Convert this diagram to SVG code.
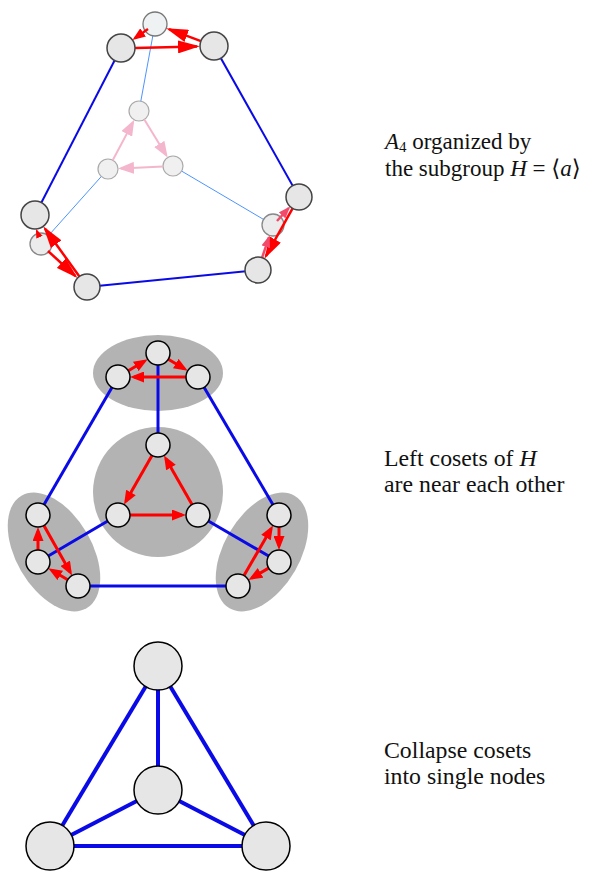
<svg xmlns="http://www.w3.org/2000/svg" width="589" height="871" viewBox="0 0 589 871">
<style>
.bg{fill:#ffffff}
.b{stroke:#0a0ae6;stroke-width:2;fill:none}
.b3{stroke:#0a0ae6;stroke-width:3;fill:none}
.b4{stroke:#0a0ae6;stroke-width:4;fill:none}
.lb{stroke:#4d94ff;stroke-width:1;fill:none}
.r{stroke:#ff0000;stroke-width:2.5;fill:none}
.r3{stroke:#ff0000;stroke-width:3;fill:none}
.rs{stroke:#ff0000;stroke-width:2;fill:none}
.rp{stroke:#f24a6a;stroke-width:2.5;fill:none}
.pk{stroke:#f4b6cc;stroke-width:2;fill:none}
.n{fill:#e6e6e6;stroke:#444;stroke-width:1.5}
.nb{fill:#eef2f2;stroke:#777;stroke-width:1.3}
.nf{fill:#f0f0f0;stroke:#aaa;stroke-width:1.2}
.nff{fill:#ececec;stroke:#888;stroke-width:1.3}
.nm{fill:#e6e6e6;stroke:#000;stroke-width:1.5}
.cos{fill:#b3b3b3}
.t{font-size:23.8px;fill:#111}
.t1{font-size:23px;fill:#111}
</style>
<defs>
<marker id="big" viewBox="0 0 22 13" markerWidth="22" markerHeight="13" refX="19" refY="6.5" orient="auto" markerUnits="userSpaceOnUse"><path d="M0,0 L22,6.5 L0,13 z" fill="#ff0000"/></marker>
<marker id="med" viewBox="0 0 13 10" markerWidth="13" markerHeight="10" refX="10" refY="5" orient="auto" markerUnits="userSpaceOnUse"><path d="M0,0 L13,5 L0,10 z" fill="#ff0000"/></marker>
<marker id="sm" viewBox="0 0 9 7" markerWidth="9" markerHeight="7" refX="7" refY="3.5" orient="auto" markerUnits="userSpaceOnUse"><path d="M0,0 L9,3.5 L0,7 z" fill="#ff0000"/></marker>
<marker id="pkh" viewBox="0 0 16 12" markerWidth="16" markerHeight="12" refX="13" refY="6" orient="auto" markerUnits="userSpaceOnUse"><path d="M0,0 L16,6 L0,12 z" fill="#f4b6cc"/></marker>
<marker id="rph" viewBox="0 0 12 9" markerWidth="12" markerHeight="9" refX="10" refY="4.5" orient="auto" markerUnits="userSpaceOnUse"><path d="M0,0 L12,4.5 L0,9 z" fill="#f24a6a"/></marker>
<marker id="mh" viewBox="0 0 14 11" markerWidth="14" markerHeight="11" refX="10" refY="5.5" orient="auto" markerUnits="userSpaceOnUse"><path d="M0,0 L14,5.5 L0,11 z" fill="#ff0000"/></marker>
</defs>
<rect class="bg" x="0" y="0" width="589" height="871"/>

<!-- ===== Top diagram ===== -->
<g id="top-connectors-back">
<line class="lb" x1="155" y1="24" x2="139" y2="111"/>
<line class="lb" x1="173" y1="166" x2="273" y2="225"/>
<line class="lb" x1="108" y1="169" x2="41" y2="244"/>
</g>
<g id="a-back"><circle class="nb" cx="155" cy="24" r="12"/></g>
<g id="a-in1"><circle class="nf" cx="139" cy="111" r="10"/></g>
<g id="a-in2"><circle class="nf" cx="173" cy="166" r="10"/></g>
<g id="a-in3"><circle class="nf" cx="108" cy="169" r="10"/></g>
<g id="a-lf"><circle class="nff" cx="41" cy="244" r="11"/></g>
<g id="a-rf"><circle class="nff" cx="273" cy="225" r="11"/></g>
<g id="top-connectors">
<line class="pk" x1="144.3" y1="119.5" x2="166.1" y2="155" marker-end="url(#pkh)"/>
<line class="pk" x1="163" y1="166.5" x2="121" y2="168.4" marker-end="url(#pkh)"/>
<line class="pk" x1="112.7" y1="160.2" x2="132.9" y2="122.4" marker-end="url(#pkh)"/>
<line class="b" x1="121" y1="48" x2="35" y2="215"/>
<line class="b" x1="214" y1="46" x2="299" y2="197"/>
<line class="b" x1="87" y1="287" x2="258" y2="270"/>
<line class="r" x1="148" y1="29" x2="134.9" y2="38.2" marker-end="url(#med)"/>
<line class="r" x1="135" y1="48" x2="197" y2="46.4" marker-end="url(#big)"/>
<line class="r" x1="200.9" y1="41.1" x2="169" y2="29.2" marker-end="url(#big)"/>
<line class="rs" x1="39" y1="236" x2="36.8" y2="230.8" marker-end="url(#sm)"/>
<line class="r" x1="79.4" y1="276.5" x2="45" y2="228.8" marker-end="url(#big)"/>
<line class="r" x1="48" y1="251" x2="75.3" y2="276" marker-end="url(#big)"/>
<line class="r" x1="292.6" y1="208.3" x2="265.9" y2="256.1" marker-end="url(#big)"/>
<line class="rp" x1="277" y1="221" x2="288.8" y2="208" marker-end="url(#rph)"/>
<line class="rp" x1="262.1" y1="257.7" x2="268.9" y2="237.3" marker-end="url(#rph)"/>
</g>
<g id="a-l0"><circle class="n" cx="121" cy="48" r="14"/></g>
<g id="a-r0"><circle class="n" cx="214" cy="46" r="14"/></g>
<g id="a-lt"><circle class="n" cx="35" cy="215" r="14"/></g>
<g id="a-lb"><circle class="n" cx="87" cy="287" r="13"/></g>
<g id="a-rt"><circle class="n" cx="299" cy="197" r="13"/></g>
<g id="a-rb"><circle class="n" cx="258" cy="270" r="13"/></g>

<!-- ===== Middle diagram ===== -->
<g id="cosets">
<ellipse class="cos" cx="158" cy="373" rx="65" ry="38"/>
<circle class="cos" cx="158" cy="492" r="65"/>
<ellipse class="cos" cx="0" cy="0" rx="65" ry="38" transform="translate(54,552) rotate(60)"/>
<ellipse class="cos" cx="0" cy="0" rx="65" ry="38" transform="translate(262,552) rotate(-60)"/>
</g>
<g id="mid-connectors">
<line class="b3" x1="158" y1="353" x2="158" y2="445"/>
<line class="b3" x1="118" y1="377" x2="38" y2="515"/>
<line class="b3" x1="198" y1="377" x2="279" y2="515"/>
<line class="b3" x1="118" y1="515" x2="38" y2="562"/>
<line class="b3" x1="198" y1="515" x2="279" y2="562"/>
<line class="b3" x1="78" y1="586" x2="238" y2="586"/>
<line class="r3" x1="128.3" y1="370.8" x2="144.3" y2="361.3" marker-end="url(#mh)"/>
<line class="r3" x1="168.3" y1="359.2" x2="184.3" y2="368.7" marker-end="url(#mh)"/>
<line class="r3" x1="186" y1="377" x2="134" y2="377" marker-end="url(#mh)"/>
<line class="r3" x1="152" y1="455.4" x2="126" y2="501.1" marker-end="url(#mh)"/>
<line class="r3" x1="130" y1="515" x2="182" y2="515" marker-end="url(#mh)"/>
<line class="r3" x1="192" y1="504.6" x2="166" y2="458.9" marker-end="url(#mh)"/>
<line class="r3" x1="38" y1="550" x2="38" y2="531" marker-end="url(#mh)"/>
<line class="r3" x1="43.9" y1="525.5" x2="70.1" y2="572" marker-end="url(#mh)"/>
<line class="r3" x1="67.7" y1="579.8" x2="51.7" y2="570.3" marker-end="url(#mh)"/>
<line class="r3" x1="279" y1="527" x2="279" y2="546" marker-end="url(#mh)"/>
<line class="r3" x1="268.6" y1="568.1" x2="251.9" y2="577.9" marker-end="url(#mh)"/>
<line class="r3" x1="244" y1="575.6" x2="271" y2="528.9" marker-end="url(#mh)"/>
</g>
<g id="m-t1"><circle class="nm" cx="158" cy="353" r="12"/></g>
<g id="m-t2"><circle class="nm" cx="118" cy="377" r="12"/></g>
<g id="m-t3"><circle class="nm" cx="198" cy="377" r="12"/></g>
<g id="m-c1"><circle class="nm" cx="158" cy="445" r="12"/></g>
<g id="m-c2"><circle class="nm" cx="118" cy="515" r="12"/></g>
<g id="m-c3"><circle class="nm" cx="198" cy="515" r="12"/></g>
<g id="m-l1"><circle class="nm" cx="38" cy="515" r="12"/></g>
<g id="m-l2"><circle class="nm" cx="38" cy="562" r="12"/></g>
<g id="m-l3"><circle class="nm" cx="78" cy="586" r="12"/></g>
<g id="m-r1"><circle class="nm" cx="279" cy="515" r="12"/></g>
<g id="m-r2"><circle class="nm" cx="279" cy="562" r="12"/></g>
<g id="m-r3"><circle class="nm" cx="238" cy="586" r="12"/></g>

<!-- ===== Bottom diagram ===== -->
<g id="bot-connectors">
<line class="b4" x1="158" y1="666" x2="158" y2="790"/>
<line class="b4" x1="158" y1="666" x2="50" y2="846"/>
<line class="b4" x1="158" y1="666" x2="266" y2="846"/>
<line class="b4" x1="158" y1="790" x2="50" y2="846"/>
<line class="b4" x1="158" y1="790" x2="266" y2="846"/>
<line class="b4" x1="50" y1="846" x2="266" y2="846"/>
</g>
<g id="q-top"><circle class="nm" cx="158" cy="666" r="24"/></g>
<g id="q-center"><circle class="nm" cx="158" cy="790" r="24"/></g>
<g id="q-left"><circle class="nm" cx="50" cy="846" r="24"/></g>
<g id="q-right"><circle class="nm" cx="266" cy="846" r="24"/></g>

<!-- ===== Captions ===== -->
<g id="captions" font-family="'Liberation Serif', 'Times New Roman', 'DejaVu Serif', serif">
<g id="caption1">
<text class="t1" x="385" y="149"><tspan font-style="italic">A</tspan><tspan font-size="15" dy="3">4</tspan><tspan dy="-3"> organized by</tspan></text>
<text class="t1" x="385" y="176">the subgroup <tspan font-style="italic">H</tspan> = ⟨<tspan font-style="italic">a</tspan>⟩</text>
</g>
<g id="caption2">
<text class="t" x="384" y="466">Left cosets of <tspan font-style="italic">H</tspan></text>
<text class="t" x="384" y="492">are near each other</text>
</g>
<g id="caption3">
<text class="t" x="384" y="758">Collapse cosets</text>
<text class="t" x="384" y="784">into single nodes</text>
</g>
</g>
</svg>
